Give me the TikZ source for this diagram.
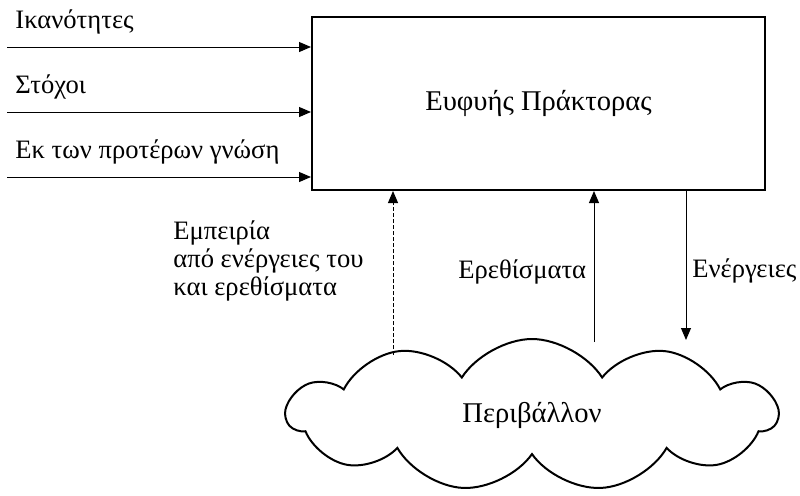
\documentclass[tikz,border=0pt]{standalone}
\usepackage{fontspec}
\setmainfont{Liberation Serif}
\usetikzlibrary{arrows.meta,shapes.symbols}

\begin{document}
\begin{tikzpicture}[
  x=0.5pt, y=-0.5pt,
  font=\fontsize{13.3}{13.8}\selectfont,
  arr/.style={-{Triangle[length=6pt,width=5pt]}, line width=0.5pt},
  lbl/.style={inner sep=0pt, anchor=base west, align=left},
  agentbox/.style={draw, line width=1pt, minimum width=226.5pt,
                   minimum height=86.5pt, inner sep=0pt,
                   font=\fontsize{14.3}{16}\selectfont},
  env/.style={draw, cloud, cloud puffs=11, cloud puff arc=115, aspect=3.2,
              line width=1pt, minimum width=245pt, minimum height=76pt,
              inner sep=0pt, font=\fontsize{14.3}{16}\selectfont},
]
\useasboundingbox (0,0) rectangle (800,495);
% agent and environment
\node[agentbox] (agent) at (538.5,103.5) {Ευφυής Πράκτορας};
\node[env]      (world) at (532,415)     {Περιβάλλον};

% inputs on the left
\node[lbl] (skill) at (15,28)  {Ικανότητες};
\node[lbl] (goal)  at (15,93)  {Στόχοι};
\node[lbl] (prior) at (15,158) {Εκ των προτέρων γνώση};
\coordinate (in1) at (7,47);
\coordinate (in2) at (7,112);
\coordinate (in3) at (7,177);
\draw[arr] (in1) -- (in1 -| agent.west);
\draw[arr] (in2) -- (in2 -| agent.west);
\draw[arr] (in3) -- (in3 -| agent.west);

% links to the environment
\coordinate (expbot)  at (393,355);
\coordinate (stimbot) at (594,342);
\coordinate (actbot)  at (686,340);
\draw[arr, dash pattern=on 2pt off 1pt] (expbot) -- (expbot |- agent.south);
\draw[arr] (stimbot) -- (stimbot |- agent.south);
\draw[arr] (actbot |- agent.south) -- (actbot);

\node[lbl] (exp)  at (173,295) {Εμπειρία\\από ενέργειες του\\και ερεθίσματα};
\node[lbl] (stim) at (458,278) {Ερεθίσματα};
\node[lbl] (act)  at (692,277) {Ενέργειες};
\end{tikzpicture}
\end{document}
